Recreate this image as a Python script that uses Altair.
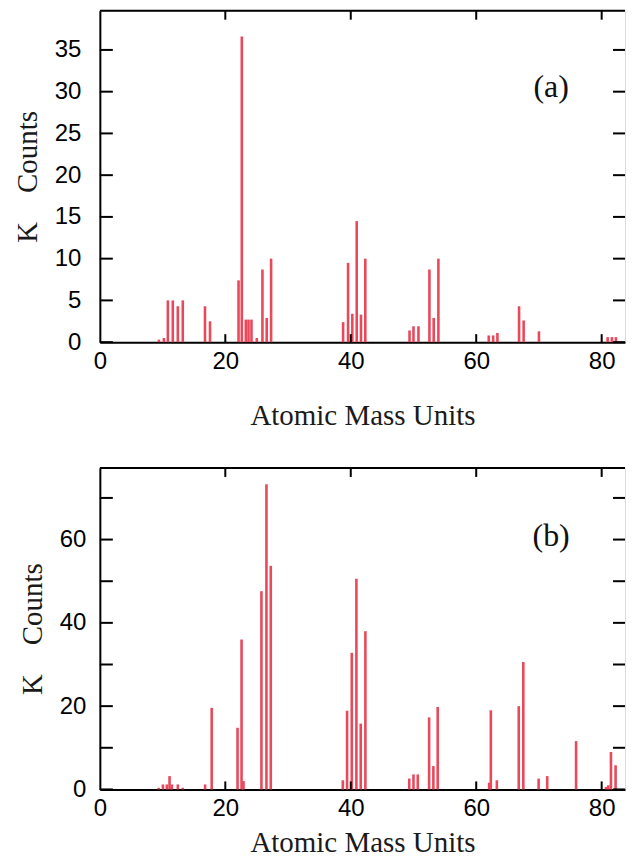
import altair as alt
import pandas as pd

# ---------------- data ----------------
mass_a = [9.41, 10.21, 10.84, 11.63, 12.43, 13.22, 16.76, 17.56, 22.11, 22.63,
          23.27, 23.70, 24.17, 25.02, 25.92, 26.60, 27.30, 38.78, 39.57, 40.25,
          40.95, 41.63, 42.32, 49.37, 50.00, 50.79, 52.54, 53.22, 53.97, 62.00,
          62.70, 63.38, 66.83, 67.56, 70.00, 80.95, 81.63, 82.27]
counts_a = [0.3, 0.5, 5.0, 5.0, 4.3, 5.0, 4.3, 2.5, 7.4, 36.6,
            2.7, 2.7, 2.7, 0.5, 8.7, 2.9, 10.0, 2.4, 9.5, 3.4,
            14.5, 3.3, 10.0, 1.4, 1.9, 1.9, 8.7, 2.9, 10.0, 0.8,
            0.8, 1.1, 4.3, 2.6, 1.3, 0.6, 0.6, 0.6]

mass_b = [9.37, 10.05, 10.68, 11.11, 11.48, 12.43, 13.22, 16.78, 17.83, 21.95,
          22.59, 22.90, 25.76, 26.56, 27.25, 38.73, 39.41, 40.16, 40.90, 41.59,
          42.33, 49.32, 50.00, 50.68, 52.49, 53.17, 53.86, 62.06, 62.33, 63.29,
          66.78, 67.51, 69.95, 71.32, 75.92, 80.68, 81.06, 81.48, 82.22]
counts_b = [0.4, 1.2, 1.2, 3.2, 1.2, 1.2, 0.4, 1.2, 19.6, 14.8,
            36.0, 2.0, 47.6, 73.3, 53.7, 2.2, 18.9, 32.8, 50.6, 15.8,
            38.0, 2.6, 3.6, 3.6, 17.3, 5.6, 19.8, 1.6, 19.0, 2.2,
            20.0, 30.6, 2.6, 3.2, 11.6, 0.6, 1.0, 9.0, 5.8]

x_ticks = [0, 20, 40, 60, 80]
inner_x_ticks = [20, 40, 60, 80]
y_ticks_a = [0, 5, 10, 15, 20, 25, 30, 35]
y_labels_a = [0, 5, 10, 15, 20, 25, 30, 35]
y_ticks_b = [0, 10, 20, 30, 40, 50, 60, 70]
y_labels_b = [0, 20, 40, 60]
panel_tags = ["(a)", "(b)"]
x_title = "Atomic Mass Units"
y_title = "K\u00a0\u00a0\u00a0\u00a0Counts"

# ---------------- styling ----------------
W = 526
RED = "#e84a5c"
SANS = "Liberation Sans"
SERIF = "Liberation Serif"
X_MAX = 83.72


def panel(mass, counts, ymax, H, yticks, ylabels, tag, tag_y,
          lab_pad, tit_pad, xtit_pad):
    df = pd.DataFrame({"mass": mass, "counts": counts})
    xs = alt.Scale(domain=[0, X_MAX], nice=False, zero=False)
    ys = alt.Scale(domain=[0, ymax], nice=False, zero=True)
    xaxis = alt.Axis(values=x_ticks, title=x_title, ticks=False, grid=False,
                     domainColor="black", domainWidth=2, labelFont=SANS,
                     labelFontSize=24, labelColor="black", labelPadding=7,
                     labelFlush=False, format="d", titleFont=SERIF,
                     titleFontSize=29, titleFontWeight="normal",
                     titleColor="#1a1a1a", titlePadding=xtit_pad)
    yaxis = alt.Axis(values=ylabels, title=y_title, ticks=False, grid=False,
                     domainColor="black", domainWidth=2, labelFont=SANS,
                     labelFontSize=24, labelColor="black", labelPadding=lab_pad,
                     labelFlush=False, format="d", titleFont=SERIF,
                     titleFontSize=29, titleFontWeight="normal",
                     titleColor="#1a1a1a", titlePadding=tit_pad)

    bars = alt.Chart(df).mark_rule(color=RED, strokeWidth=2.6).encode(
        x=alt.X("mass:Q", scale=xs, axis=xaxis),
        y=alt.Y("counts:Q", scale=ys, axis=yaxis),
        y2=alt.datum(0),
    )

    ydf = pd.DataFrame({"t": yticks})
    xdf = pd.DataFrame({"t": inner_x_ticks})
    left_ticks = alt.Chart(ydf).mark_rule(color="black", strokeWidth=2).encode(
        y=alt.Y("t:Q", scale=ys, axis=yaxis), x=alt.value(0), x2=alt.value(13))
    right_ticks = alt.Chart(ydf).mark_rule(color="black", strokeWidth=2).encode(
        y=alt.Y("t:Q", scale=ys, axis=yaxis), x=alt.value(W - 12), x2=alt.value(W))
    top_ticks = alt.Chart(xdf).mark_rule(color="black", strokeWidth=2).encode(
        x=alt.X("t:Q", scale=xs, axis=xaxis), y=alt.value(0), y2=alt.value(9))
    bottom_ticks = alt.Chart(xdf).mark_rule(color="black", strokeWidth=2).encode(
        x=alt.X("t:Q", scale=xs, axis=xaxis), y=alt.value(H - 8), y2=alt.value(H))
    top_line = alt.Chart(pd.DataFrame({"k": [0]})).mark_rule(
        color="black", strokeWidth=2).encode(
        x=alt.value(0), x2=alt.value(W), y=alt.value(0))
    label = alt.Chart(pd.DataFrame({"tag": [tag]})).mark_text(
        font=SERIF, fontSize=32, color="#111").encode(
        text="tag:N", x=alt.value(452), y=alt.value(tag_y))

    return alt.layer(bars, left_ticks, right_ticks, top_ticks, bottom_ticks,
                     top_line, label).properties(width=W, height=H)


pa = panel(mass_a, counts_a, 39.7, 332, y_ticks_a, y_labels_a,
           panel_tags[0], 76, 19, 12, 28)
pb = panel(mass_b, counts_b, 77.2, 322, y_ticks_b, y_labels_b,
           panel_tags[1], 68, 14, 12, 8)

chart = alt.vconcat(pa, pb, spacing=35).properties(
    padding={"left": 4, "top": 0, "right": 0, "bottom": 0}
).configure_view(stroke=None).configure(background="white")

chart.save("out.html", embed_options={"renderer": "svg", "actions": False})
